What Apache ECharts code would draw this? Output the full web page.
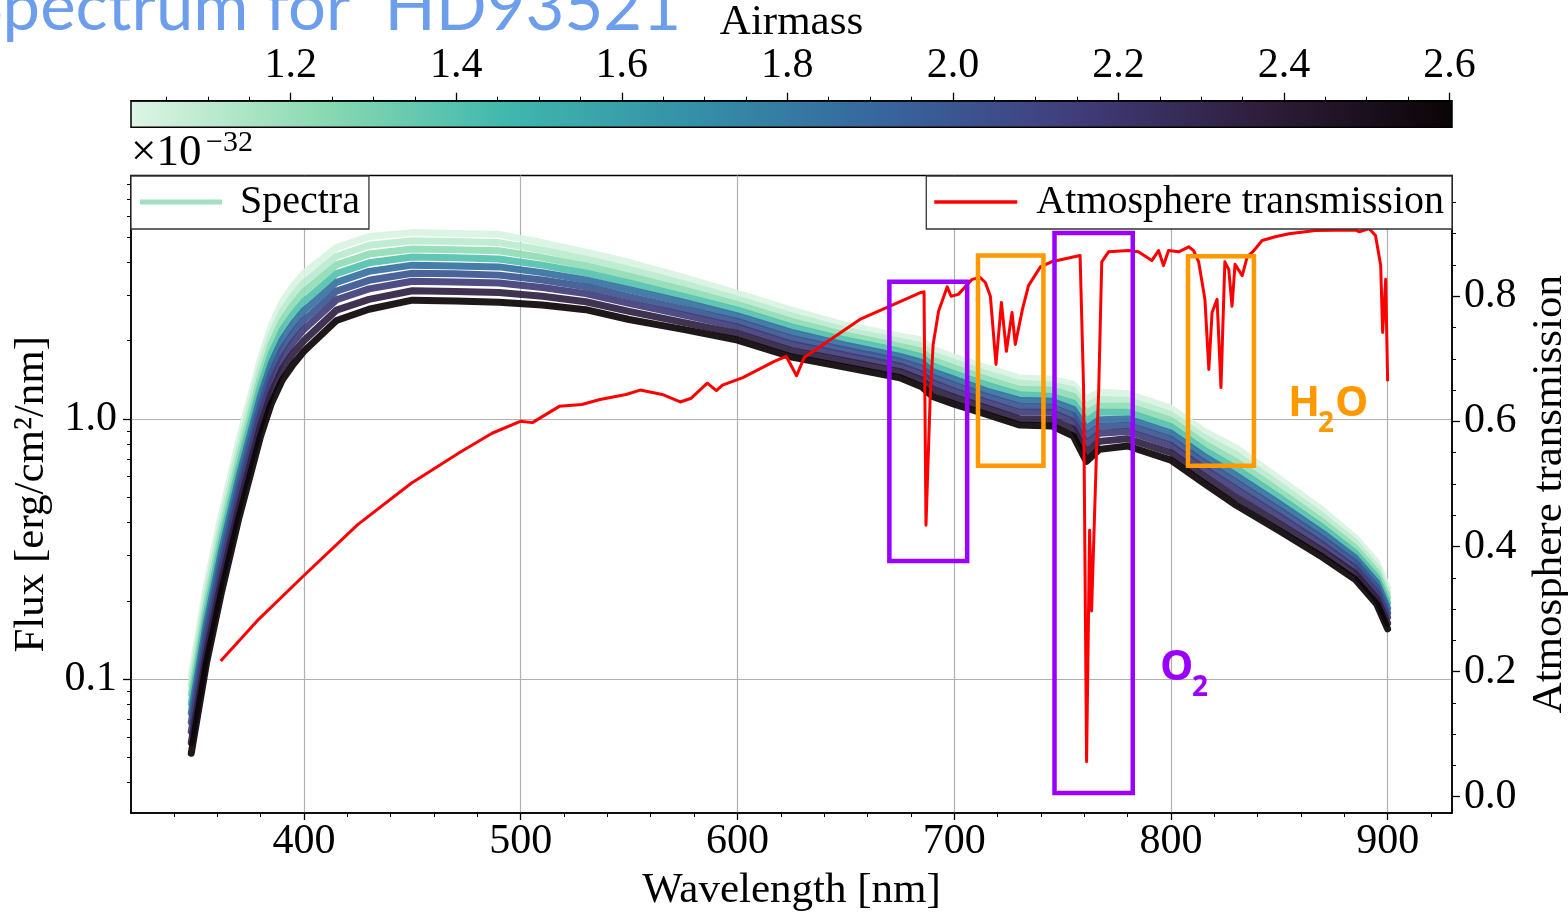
<!DOCTYPE html>
<html><head><meta charset="utf-8">
<script src="https://cdn.jsdelivr.net/npm/echarts@6/dist/echarts.min.js"></script>
<style>html,body{margin:0;padding:0;background:#fff;overflow:hidden}#chart{width:1568px;height:913px}</style>
</head><body><div id="chart"></div>
<script>
// ---------------- data ----------------
const WAVELENGTH = [348,355,362,370,380,385,390,395,400,415,430,450,470,490,510,530,550,575,600,625,650,675,685,690,700,715,730,745,755,761,767,780,800,815,830,850,870,885,895,900];
const AIRMASS = [1.02, 1.1, 1.22, 1.4, 1.85, 2.0, 2.15, 2.35, 2.6];
const SPEC_1 = [0.104,0.229,0.433,0.832,1.71,2.29,2.82,3.24,3.63,4.56,5.02,5.20,5.16,5.12,4.76,4.37,4.00,3.50,3.04,2.62,2.29,2.08,2.01,1.85,1.73,1.57,1.44,1.42,1.36,1.19,1.27,1.25,1.10,0.900,0.775,0.589,0.445,0.350,0.281,0.225];
const SPEC_2 = [0.0952,0.211,0.398,0.765,1.58,2.11,2.59,2.98,3.34,4.22,4.65,4.84,4.81,4.76,4.46,4.11,3.76,3.31,2.89,2.49,2.19,1.99,1.91,1.76,1.65,1.49,1.37,1.35,1.29,1.12,1.19,1.18,1.04,0.851,0.729,0.557,0.423,0.335,0.268,0.215];
const SPEC_3 = [0.0877,0.194,0.366,0.705,1.45,1.94,2.39,2.74,3.08,3.91,4.30,4.50,4.47,4.43,4.17,3.87,3.54,3.13,2.75,2.37,2.10,1.90,1.82,1.68,1.57,1.42,1.30,1.29,1.22,1.05,1.12,1.12,0.987,0.805,0.686,0.527,0.402,0.320,0.257,0.206];
const SPEC_4 = [0.0807,0.179,0.337,0.649,1.34,1.79,2.20,2.52,2.83,3.62,3.98,4.19,4.16,4.12,3.90,3.64,3.33,2.96,2.62,2.26,2.01,1.82,1.73,1.60,1.49,1.35,1.24,1.22,1.15,0.979,1.06,1.06,0.934,0.762,0.645,0.499,0.383,0.306,0.246,0.197];
const SPEC_5 = [0.0743,0.164,0.311,0.597,1.23,1.64,2.02,2.32,2.61,3.35,3.69,3.90,3.87,3.84,3.65,3.42,3.14,2.81,2.49,2.15,1.92,1.74,1.65,1.52,1.42,1.28,1.18,1.17,1.09,0.916,0.994,1.00,0.883,0.721,0.607,0.472,0.364,0.293,0.235,0.188];
const SPEC_6 = [0.0684,0.151,0.286,0.550,1.13,1.51,1.86,2.14,2.40,3.10,3.41,3.63,3.61,3.57,3.42,3.22,2.95,2.65,2.37,2.04,1.84,1.67,1.57,1.45,1.35,1.22,1.12,1.11,1.03,0.857,0.936,0.946,0.836,0.682,0.572,0.447,0.347,0.281,0.225,0.180];
const SPEC_7 = [0.0629,0.139,0.263,0.506,1.04,1.39,1.71,1.97,2.21,2.87,3.16,3.38,3.36,3.33,3.20,3.03,2.78,2.51,2.26,1.94,1.76,1.60,1.49,1.38,1.28,1.16,1.06,1.06,0.977,0.802,0.881,0.895,0.791,0.646,0.538,0.423,0.330,0.268,0.215,0.173];
const SPEC_8 = [0.0571,0.126,0.239,0.459,0.946,1.26,1.56,1.79,2.00,2.62,2.88,3.11,3.09,3.06,2.96,2.82,2.59,2.35,2.13,1.83,1.67,1.52,1.41,1.30,1.21,1.10,1.00,0.996,0.916,0.742,0.820,0.839,0.742,0.605,0.501,0.396,0.311,0.255,0.204,0.164];
const SPEC_9 = [0.0519,0.115,0.217,0.417,0.859,1.15,1.41,1.62,1.82,2.39,2.64,2.86,2.84,2.81,2.74,2.63,2.41,2.21,2.01,1.73,1.58,1.44,1.33,1.22,1.14,1.04,0.948,0.940,0.859,0.687,0.764,0.787,0.695,0.568,0.467,0.372,0.294,0.242,0.194,0.156];
const SPECTRA = [SPEC_1,SPEC_2,SPEC_3,SPEC_4,SPEC_5,SPEC_6,SPEC_7,SPEC_8,SPEC_9];

const TRANS_WL = [361.6,379.2,399.5,424.8,449.5,472.2,486.8,499.8,505.4,517.8,528.2,536.6,548.6,555.1,565.3,573.6,578.7,586.1,590.3,593.1,602.5,617.0,622.5,627.3,630.8,657.0,668.8,684.7,686.1,687.0,688.9,690.3,692.8,696.8,698.6,701.9,705.1,708.3,711.9,714.4,716.7,719.3,721.8,724.1,726.7,728.2,731.5,734.3,739.8,744.9,758.1,759.7,761.1,762.5,763.4,765.7,766.7,768.1,771.2,780.4,785.0,791.2,794.3,796.6,798.9,803.6,808.2,810.5,812.8,815.7,817.5,819.0,821.3,823.1,824.9,826.7,828.2,829.6,832.9,835.2,838.3,842.1,848.1,854.5,866.7,885.2,886.9,891.5,894.4,896.8,897.7,899.1,900.0];
const TRANS_T = [0.217,0.284,0.352,0.435,0.501,0.551,0.581,0.600,0.598,0.624,0.627,0.635,0.643,0.650,0.643,0.631,0.637,0.661,0.649,0.658,0.670,0.696,0.704,0.673,0.702,0.764,0.782,0.806,0.807,0.434,0.635,0.723,0.776,0.815,0.800,0.803,0.815,0.827,0.830,0.822,0.800,0.691,0.790,0.712,0.774,0.723,0.779,0.817,0.847,0.855,0.865,0.655,0.056,0.426,0.297,0.554,0.651,0.855,0.871,0.873,0.871,0.857,0.873,0.849,0.873,0.871,0.879,0.873,0.855,0.795,0.683,0.774,0.795,0.654,0.855,0.843,0.784,0.851,0.833,0.863,0.873,0.889,0.895,0.900,0.905,0.906,0.903,0.908,0.897,0.849,0.742,0.827,0.664];

// annotation boxes: [wl0, T0, wl1, T1]
const O2_BOXES = [[670.1,0.823,706.0,0.377],[746.3,0.901,782.4,0.006]];
const H2O_BOXES = [[711.0,0.865,741.2,0.529],[807.9,0.864,838.3,0.529]];

// tick values
const X_TICKS = [400,500,600,700,800,900];
const X_MINOR = [340,360,380,420,440,460,480,520,540,560,580,620,640,660,680,720,740,760,780,820,840,860,880,920];
const FLUX_TICKS = [0.1,1];
const FLUX_MINOR = [0.04,0.05,0.06,0.07,0.08,0.09,0.2,0.3,0.4,0.5,0.6,0.7,0.8,0.9,2,3,4,5,6,7,8];
const TRANS_TICKS = [0,0.2,0.4,0.6,0.8];
const TRANS_MINOR = [0.05,0.1,0.15,0.25,0.3,0.35,0.45,0.5,0.55,0.65,0.7,0.75,0.85,0.9,0.95];
const AM_TICKS = [1.2,1.4,1.6,1.8,2.0,2.2,2.4,2.6];
const AM_MINOR = [1.05,1.1,1.15,1.25,1.3,1.35,1.45,1.5,1.55,1.65,1.7,1.75,1.85,1.9,1.95,2.05,2.1,2.15,2.25,2.3,2.35,2.45,2.5,2.55];
const AM_MIN = 1.007, AM_MAX = 2.603;

// ---------------- styles ----------------
const CMAP = [[0,'#DEF5E5'],[0.143,'#8BDAB2'],[0.286,'#40B7AD'],[0.429,'#348FA7'],[0.571,'#37659E'],[0.714,'#413D7B'],[0.857,'#2E1E3B'],[1,'#0B0405']];
function hex2rgb(h){return [parseInt(h.substr(1,2),16),parseInt(h.substr(3,2),16),parseInt(h.substr(5,2),16)];}
function cmap(t){
  t=Math.max(0,Math.min(1,t));
  for(let i=0;i<CMAP.length-1;i++){
    const a=CMAP[i],b=CMAP[i+1];
    if(t<=b[0]){
      const f=(t-a[0])/(b[0]-a[0]); const ca=hex2rgb(a[1]), cb=hex2rgb(b[1]);
      return 'rgb('+ca.map((v,k)=>Math.round(v+(cb[k]-v)*f)).join(',')+')';
    }
  }
  return CMAP[CMAP.length-1][1];
}
const SERIF='Liberation Serif';
const AX_COLOR='#000';
const GRID_GRAY='#b0b0b0';

const chart = echarts.init(document.getElementById('chart'), null, {renderer:'canvas'});

const spectraSeries = SPECTRA.map((arr,i)=>({
  type:'line', name: i===0 ? 'Spectra' : 'Spectra AM '+AIRMASS[i],
  xAxisIndex:0, yAxisIndex:0,
  data: WAVELENGTH.map((w,k)=>[w,arr[k]]),
  symbol:'none', silent:true, z:2, smooth:false,
  lineStyle:{width:7, color:cmap((AIRMASS[i]-AM_MIN)/(AM_MAX-AM_MIN)), opacity:0.92, join:'round', cap:'round'},
  itemStyle:{color:cmap((AIRMASS[i]-AM_MIN)/(AM_MAX-AM_MIN))}
}));

function boxData(boxes,color){
  return boxes.map(b=>[{coord:[b[0],b[1]], itemStyle:{borderColor:color}},{coord:[b[2],b[3]]}]);
}

const option = {
  animation:false,
  backgroundColor:'#fff',
  grid:[
    {left:131, right:116, top:175.5, bottom:100, show:true, borderColor:'#000', borderWidth:1.5, backgroundColor:'#fff', outerBoundsMode:'none'},
    {left:131, right:116, top:100.7, height:26.6, show:true, borderColor:'#000', borderWidth:1.5, outerBoundsMode:'none',
     backgroundColor:{type:'linear',x:0,y:0,x2:1,y2:0,colorStops:CMAP.map(s=>({offset:s[0],color:s[1]}))}}
  ],
  xAxis:[
    {type:'value', gridIndex:0, position:'bottom', min:320.2, max:929.7,
     axisLine:{show:true, onZero:false, lineStyle:{color:AX_COLOR,width:1.5}},
     axisTick:{show:true, inside:false, length:7, customValues:X_TICKS, lineStyle:{color:AX_COLOR,width:1.3}},
     axisLabel:{customValues:X_TICKS, fontFamily:SERIF, fontSize:42, color:'#000', margin:8},
     splitLine:{show:true, lineStyle:{color:GRID_GRAY,width:1.2}},
     name:'Wavelength [nm]', nameLocation:'middle', nameGap:56,
     nameTextStyle:{fontFamily:SERIF, fontSize:43, color:'#000'}},
    {type:'value', gridIndex:0, position:'bottom', min:320.2, max:929.7,
     axisLine:{show:false, onZero:false},
     axisTick:{show:true, inside:false, length:4, customValues:X_MINOR, lineStyle:{color:AX_COLOR,width:1}},
     axisLabel:{show:false}, splitLine:{show:false}},
    {type:'value', gridIndex:1, position:'top', min:AM_MIN, max:AM_MAX,
     axisLine:{show:true, onZero:false, lineStyle:{color:AX_COLOR,width:1.5}},
     axisTick:{show:true, inside:false, length:8, customValues:AM_TICKS, lineStyle:{color:AX_COLOR,width:1.3}},
     axisLabel:{customValues:AM_TICKS, fontFamily:SERIF, fontSize:42, color:'#000', margin:14, formatter:v=>(+v).toFixed(1)},
     splitLine:{show:false},
     name:'Airmass', nameLocation:'middle', nameGap:49,
     nameTextStyle:{fontFamily:SERIF, fontSize:43, color:'#000'}},
    {type:'value', gridIndex:1, position:'top', min:AM_MIN, max:AM_MAX,
     axisLine:{show:false, onZero:false},
     axisTick:{show:true, inside:false, length:4, customValues:AM_MINOR, lineStyle:{color:AX_COLOR,width:1}},
     axisLabel:{show:false}, splitLine:{show:false}}
  ],
  yAxis:[
    {type:'log', logBase:10, gridIndex:0, position:'left', min:0.0306, max:8.62,
     axisLine:{show:true, onZero:false, lineStyle:{color:AX_COLOR,width:1.5}},
     axisTick:{show:true, inside:false, length:8, customValues:FLUX_TICKS, lineStyle:{color:AX_COLOR,width:1.3}},
     axisLabel:{customValues:FLUX_TICKS, fontFamily:SERIF, fontSize:42, color:'#000', margin:14, formatter:v=>(+v).toFixed(1)},
     splitLine:{show:true, lineStyle:{color:GRID_GRAY,width:1.2}},
     name:'Flux [erg/cm²/nm]', nameLocation:'middle', nameGap:76,
     nameTextStyle:{fontFamily:SERIF, fontSize:43, color:'#000'}},
    {type:'log', logBase:10, gridIndex:0, position:'left', min:0.0306, max:8.62,
     axisLine:{show:false, onZero:false},
     axisTick:{show:true, inside:false, length:4, customValues:FLUX_MINOR, lineStyle:{color:AX_COLOR,width:1}},
     axisLabel:{show:false}, splitLine:{show:false}},
    {type:'value', gridIndex:0, position:'right', min:-0.026, max:0.993,
     axisLine:{show:true, onZero:false, lineStyle:{color:AX_COLOR,width:1.5}},
     axisTick:{show:true, inside:false, length:8, customValues:TRANS_TICKS, lineStyle:{color:AX_COLOR,width:1.3}},
     axisLabel:{customValues:TRANS_TICKS, fontFamily:SERIF, fontSize:42, color:'#000', margin:12, formatter:v=>(+v).toFixed(1)},
     splitLine:{show:false},
     name:'Atmosphere transmission', nameLocation:'middle', nameGap:76,
     nameTextStyle:{fontFamily:SERIF, fontSize:43, color:'#000'}},
    {type:'value', gridIndex:0, position:'right', min:-0.026, max:0.993,
     axisLine:{show:false, onZero:false},
     axisTick:{show:true, inside:false, length:4, customValues:TRANS_MINOR, lineStyle:{color:AX_COLOR,width:1}},
     axisLabel:{show:false}, splitLine:{show:false}},
    {type:'value', gridIndex:1, min:0, max:1, show:false}
  ],
  legend:[
    {data:[{name:'Spectra', icon:'path://M0,0H82V5H0Z', itemStyle:{color:'#a3dfc0'}}],
     left:131, top:176, itemWidth:82, itemHeight:5, padding:[6,9,7,9], selectedMode:false,
     backgroundColor:'#fff', borderColor:'#333', borderWidth:1.3, borderRadius:0,
     textStyle:{fontFamily:SERIF, fontSize:40, color:'#000', padding:[0,0,0,13]}},
    {data:[{name:'Atmosphere transmission', icon:'path://M0,0H83V3.5H0Z', itemStyle:{color:'#ff0000'}}],
     right:116, top:176, itemWidth:83, itemHeight:3.5, padding:[6,8,7,8], selectedMode:false,
     backgroundColor:'#fff', borderColor:'#333', borderWidth:1.3, borderRadius:0,
     textStyle:{fontFamily:SERIF, fontSize:40, color:'#000', padding:[0,0,0,14]}}
  ],
  series:[
    ...spectraSeries,
    {type:'line', name:'Atmosphere transmission', xAxisIndex:0, yAxisIndex:2,
     data:TRANS_WL.map((w,k)=>[w,TRANS_T[k]]), symbol:'none', silent:true, z:3,
     lineStyle:{width:3, color:'#ff0000', join:'round'}, itemStyle:{color:'#ff0000'}},
    {type:'line', name:'boxes', xAxisIndex:0, yAxisIndex:2, data:[], z:5, silent:true,
     markArea:{silent:true, z:5,
       itemStyle:{color:'rgba(0,0,0,0)', borderWidth:4.5},
       label:{show:false},
       data:[...boxData(O2_BOXES,'#9900ff'), ...boxData(H2O_BOXES,'#ff9900')]}}
  ],
  graphic:[
    {type:'text', x:681, y:8, z:100, style:{text:'Spectrum for  HD93521', fontFamily:'Lato', fontSize:67, fill:'#6d9eeb', align:'right', verticalAlign:'middle'}},
    {type:'text', x:131, y:153, z:100, style:{text:'×10', fontFamily:SERIF, fontSize:45, fill:'#000', align:'left', verticalAlign:'middle'}},
    {type:'text', x:206, y:143, z:100, style:{text:'−32', fontFamily:SERIF, fontSize:30, fill:'#000', align:'left', verticalAlign:'middle'}},
    {type:'text', x:1288, y:404, z:100, style:{text:'H', fontFamily:'Open Sans', fontWeight:'bold', fontSize:42, fill:'#ff9900', align:'left', verticalAlign:'middle'}},
    {type:'text', x:1318, y:424, z:100, style:{text:'2', fontFamily:'Open Sans', fontWeight:'bold', fontSize:28, fill:'#ff9900', align:'left', verticalAlign:'middle'}},
    {type:'text', x:1335, y:404, z:100, style:{text:'O', fontFamily:'Open Sans', fontWeight:'bold', fontSize:42, fill:'#ff9900', align:'left', verticalAlign:'middle'}},
    {type:'text', x:1160, y:668, z:100, style:{text:'O', fontFamily:'Open Sans', fontWeight:'bold', fontSize:42, fill:'#9900ff', align:'left', verticalAlign:'middle'}},
    {type:'text', x:1192, y:688, z:100, style:{text:'2', fontFamily:'Open Sans', fontWeight:'bold', fontSize:28, fill:'#9900ff', align:'left', verticalAlign:'middle'}}
  ]
};
chart.setOption(option);
</script></body></html>
